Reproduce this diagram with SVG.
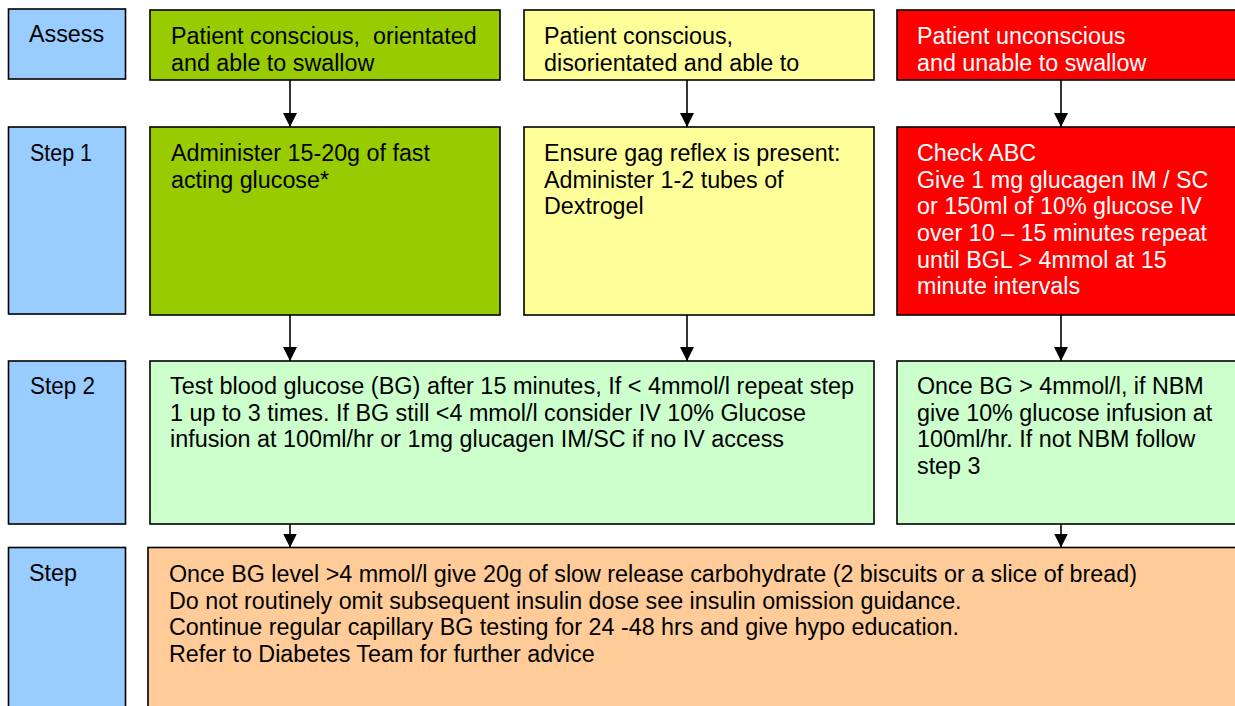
<svg xmlns="http://www.w3.org/2000/svg" width="1235" height="706" viewBox="0 0 1235 706">
<defs>
<style>
.box{stroke:#000;stroke-width:1.6}
.lbl{fill:#99CCFF}
.g{fill:#99CC00}
.y{fill:#FFFF99}
.r{fill:#FF0000}
.lg{fill:#CCFFCC}
.o{fill:#FFCC99}
text{font-family:"Liberation Sans",Arial,sans-serif;font-size:23.3px;fill:#000}
.w{fill:#fff}
.conn{stroke:#000;stroke-width:1.6;fill:none}
</style>
<marker id="ah" markerUnits="userSpaceOnUse" markerWidth="14" markerHeight="14" refX="14" refY="7" orient="auto" viewBox="0 0 14 14">
<path d="M0,0 L14,7 L0,14 Z" fill="#000"/>
</marker>
</defs>
<rect width="1235" height="706" fill="#fff"/>

<g id="assess"><rect class="box lbl" x="8.5" y="9" width="117" height="70"/><text x="29" y="42">Assess</text></g>
<g id="step1"><rect class="box lbl" x="8.5" y="127" width="117" height="187"/><text x="30" y="161" textLength="62" lengthAdjust="spacingAndGlyphs">Step 1</text></g>
<g id="step2"><rect class="box lbl" x="8.5" y="361" width="117" height="163"/><text x="30" y="394" textLength="65" lengthAdjust="spacingAndGlyphs">Step 2</text></g>
<g id="step3"><rect class="box lbl" x="8.5" y="547.5" width="117" height="170"/><text x="29" y="581">Step</text></g>

<g id="a-green"><rect class="box g" x="150" y="10" width="350" height="70"/>
<text x="171" y="44">Patient conscious,&#160; orientated</text><text x="171" y="71">and able to swallow</text></g>
<g id="a-yellow"><rect class="box y" x="524" y="10" width="350" height="70"/>
<text x="544" y="44">Patient conscious,</text><text x="544" y="71">disorientated and able to</text></g>
<g id="a-red"><rect class="box r" x="897" y="10" width="350" height="70"/>
<text class="w" x="917" y="44">Patient unconscious</text><text class="w" x="917" y="71">and unable to swallow</text></g>

<g id="s1-green"><rect class="box g" x="150" y="127" width="350" height="188"/>
<text x="171" y="161">Administer 15-20g of fast</text><text x="171" y="188">acting glucose*</text></g>
<g id="s1-yellow"><rect class="box y" x="524" y="127" width="350" height="188"/>
<text x="544" y="161">Ensure gag reflex is present:</text><text x="544" y="188">Administer 1-2 tubes of</text><text x="544" y="214">Dextrogel</text></g>
<g id="s1-red"><rect class="box r" x="897" y="127" width="350" height="188"/>
<text class="w" x="917" y="161">Check ABC</text>
<text class="w" x="917" y="188">Give 1 mg glucagen IM / SC</text>
<text class="w" x="917" y="214">or 150ml of 10% glucose IV</text>
<text class="w" x="917" y="241">over 10 – 15 minutes repeat</text>
<text class="w" x="917" y="268">until BGL &gt; 4mmol at 15</text>
<text class="w" x="917" y="294">minute intervals</text></g>

<g id="s2-main"><rect class="box lg" x="150" y="361" width="724" height="163"/>
<text x="170" y="394" textLength="684" lengthAdjust="spacingAndGlyphs">Test blood glucose (BG) after 15 minutes, If &lt; 4mmol/l repeat step</text>
<text x="170" y="421" textLength="636" lengthAdjust="spacingAndGlyphs">1 up to 3 times. If BG still &lt;4 mmol/l consider IV 10% Glucose</text>
<text x="170" y="447" textLength="614" lengthAdjust="spacingAndGlyphs">infusion at 100ml/hr or 1mg glucagen IM/SC if no IV access</text></g>
<g id="s2-right"><rect class="box lg" x="897" y="361" width="350" height="163"/>
<text x="917" y="394">Once BG &gt; 4mmol/l, if NBM</text>
<text x="917" y="421">give 10% glucose infusion at</text>
<text x="917" y="447">100ml/hr. If not NBM follow</text>
<text x="917" y="474">step 3</text></g>

<g id="s3-main"><rect class="box o" x="148" y="547.5" width="1100" height="170"/>
<text x="169" y="582">Once BG level &gt;4 mmol/l give 20g of slow release carbohydrate (2 biscuits or a slice of bread)</text>
<text x="169" y="609">Do not routinely omit subsequent insulin dose see insulin omission guidance.</text>
<text x="169" y="635">Continue regular capillary BG testing for 24 -48 hrs and give hypo education.</text>
<text x="169" y="662">Refer to Diabetes Team for further advice</text></g>

<g id="connectors">
<line class="conn" x1="290" y1="80" x2="290" y2="127" marker-end="url(#ah)"/>
<line class="conn" x1="687" y1="80" x2="687" y2="127" marker-end="url(#ah)"/>
<line class="conn" x1="1061" y1="80" x2="1061" y2="127" marker-end="url(#ah)"/>
<line class="conn" x1="290" y1="315" x2="290" y2="361" marker-end="url(#ah)"/>
<line class="conn" x1="687" y1="315" x2="687" y2="361" marker-end="url(#ah)"/>
<line class="conn" x1="1061" y1="315" x2="1061" y2="361" marker-end="url(#ah)"/>
<line class="conn" x1="290" y1="524" x2="290" y2="547.5" marker-end="url(#ah)"/>
<line class="conn" x1="1061" y1="524" x2="1061" y2="547.5" marker-end="url(#ah)"/>
</g>
</svg>
